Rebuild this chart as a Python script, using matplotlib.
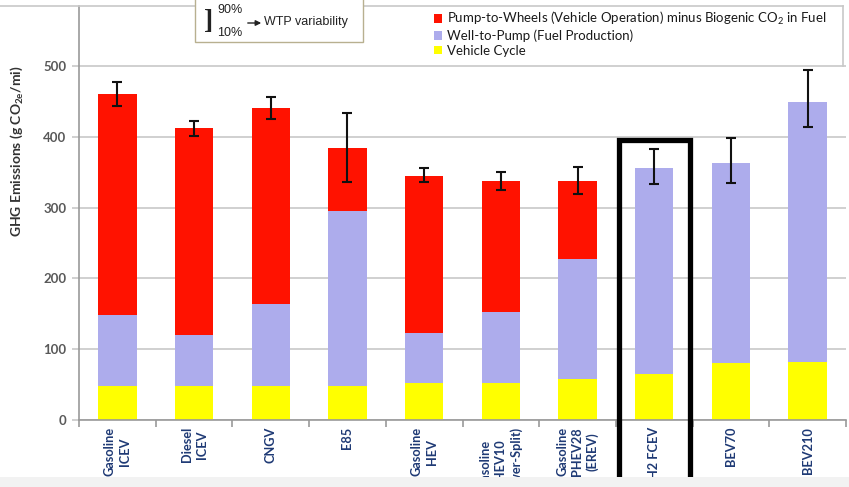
import matplotlib
matplotlib.use("Agg")
import matplotlib.pyplot as plt
from matplotlib.patches import Patch, Rectangle, FancyArrowPatch
from matplotlib.lines import Line2D
import numpy as np

categories = ["Gasoline\nICEV", "Diesel\nICEV", "CNGV", "E85", "Gasoline\nHEV",
              "Gasoline\nPHEV10\n(Power-Split)", "Gasoline\nPHEV28\n(EREV)",
              "H2 FCEV", "BEV70", "BEV210"]
vehicle_cycle = [48, 48, 48, 48, 52, 52, 58, 65, 80, 82]
well_to_pump = [100, 72, 116, 247, 71, 101, 169, 291, 283, 367]
pump_to_wheels = [312, 292, 277, 89, 222, 185, 111, 0, 0, 0]
wtp_p10 = [443, 401, 425, 336, 336, 325, 319, 333, 335, 414]
wtp_p90 = [477, 422, 456, 434, 356, 350, 357, 383, 398, 494]
y_ticks = [0, 100, 200, 300, 400, 500]
highlight = "H2 FCEV"

red = "#ff1200"
lavender = "#adacec"
yellow = "#ffff00"
grid_gray = "#c8c8c8"

plt.rcParams["font.family"] = ["Lato", "DejaVu Sans"]

W, H = 849, 487
fig = plt.figure(figsize=(W / 100, H / 100), dpi=100)

# light band along the bottom edge
fig.patches.append(Rectangle((0, 0), 1, 10 / H, transform=fig.transFigure,
                             facecolor="#f2f2f2", edgecolor="none", zorder=0))
# top border line
fig.lines.append(Line2D([0, 843 / W], [1 - 6 / H, 1 - 6 / H], transform=fig.transFigure,
                        color=grid_gray, lw=1.2, zorder=1))

ax = fig.add_axes([79 / W, (H - 420) / H, (846 - 79) / W, (420 - 6) / H])
ax.patch.set_alpha(0)

x = np.arange(len(categories))
vc = np.array(vehicle_cycle)
wtp = np.array(well_to_pump)
ptw = np.array(pump_to_wheels)
width = 0.5

ax.bar(x, vc, width, color=yellow, zorder=2)
ax.bar(x, wtp, width, bottom=vc, color=lavender, zorder=2)
ax.bar(x, ptw, width, bottom=vc + wtp, color=red, zorder=2)

mid = (np.array(wtp_p10) + np.array(wtp_p90)) / 2
ax.errorbar(x, mid, yerr=[mid - np.array(wtp_p10), np.array(wtp_p90) - mid],
            fmt="none", ecolor="#111111", elinewidth=1.5, capsize=3.5, capthick=1.5, zorder=3)

ax.set_xlim(-0.5, len(categories) - 0.5 - 0.04)
ax.set_ylim(0, 585)
ax.set_yticks(y_ticks)
ax.set_yticklabels([str(v) for v in y_ticks], fontsize=9.5, fontweight="bold", color="#595959")
ax.yaxis.grid(True, color=grid_gray, lw=1.2, zorder=0)
ax.set_axisbelow(True)
ax.tick_params(axis="y", length=5, color=grid_gray, width=1.2, pad=4)

ax.set_xticks(x)
ax.set_xticklabels(categories, rotation=90, fontsize=9.2, fontweight="bold",
                   color="#1f3a75", va="top", ha="center", multialignment="center",
                   linespacing=1.3)
ax.tick_params(axis="x", length=0, pad=5)
ax.set_xticks(np.arange(-0.5, len(categories), 1.0), minor=True)
ax.tick_params(axis="x", which="minor", length=5, color="#999999", width=1.2)

for side in ["top", "right"]:
    ax.spines[side].set_visible(False)
ax.spines["left"].set_color("#999999")
ax.spines["bottom"].set_color("#999999")
ax.spines["left"].set_linewidth(1.2)
ax.spines["bottom"].set_linewidth(1.2)

# highlight box around the fuel cell vehicle
hi = categories.index(highlight)
ax.add_patch(Rectangle((hi - 0.46, -90), 0.92, 485, fill=False, edgecolor="black",
                       lw=3.8, clip_on=False, zorder=5))

fig.text(17 / W, 1 - 151 / H, r"GHG Emissions (g CO$_{\mathregular{2e}}$/mi)", rotation=90,
         ha="center", va="center", fontsize=10, fontweight="bold", color="#333333")

# legend panel
fig.lines.append(Line2D([843 / W, 843 / W], [1 - 6 / H, 1 - 66 / H], transform=fig.transFigure,
                        color=grid_gray, lw=1.2))
handles = [Patch(facecolor=red, edgecolor="none"),
           Patch(facecolor=lavender, edgecolor="none"),
           Patch(facecolor=yellow, edgecolor="none")]
labels = [r"Pump-to-Wheels (Vehicle Operation) minus Biogenic CO$_{\mathregular{2}}$ in Fuel",
          "Well-to-Pump (Fuel Production)", "Vehicle Cycle"]
leg = fig.legend(handles, labels, loc="upper left", bbox_to_anchor=(434 / W, 1 - 10 / H),
                 frameon=False, fontsize=9.5, handlelength=0.6, handleheight=0.6,
                 handletextpad=0.4, labelspacing=0.2, borderpad=0, borderaxespad=0)
for t in leg.get_texts():
    t.set_color("#1a1a1a")

# WTP variability key
fig.patches.append(Rectangle((195 / W, 1 - 42 / H), 168 / W, 50 / H, transform=fig.transFigure,
                             facecolor="white", edgecolor="#b8b090", lw=1.0, zorder=3))
fig.text(209 / W, 1 - 22 / H, "]", fontsize=20, fontweight="bold", family="Liberation Serif",
         ha="center", va="center", color="#222222", zorder=4)
fig.text(217 / W, 1 - 10 / H, "90%", fontsize=9, family="Liberation Sans",
         ha="left", va="center", color="#222222", zorder=4)
fig.text(217 / W, 1 - 33 / H, "10%", fontsize=9, family="Liberation Sans",
         ha="left", va="center", color="#222222", zorder=4)
fig.patches.append(FancyArrowPatch(
    (245 / W, 1 - 23 / H), (264 / W, 1 - 23 / H), transform=fig.transFigure,
    arrowstyle="-|>", mutation_scale=8, color="#222222", lw=1.0, zorder=4))
fig.text(264 / W, 1 - 22 / H, "WTP variability", fontsize=9, family="Liberation Sans",
         ha="left", va="center", color="#222222", zorder=4)

fig.savefig("out.png", dpi=100)
